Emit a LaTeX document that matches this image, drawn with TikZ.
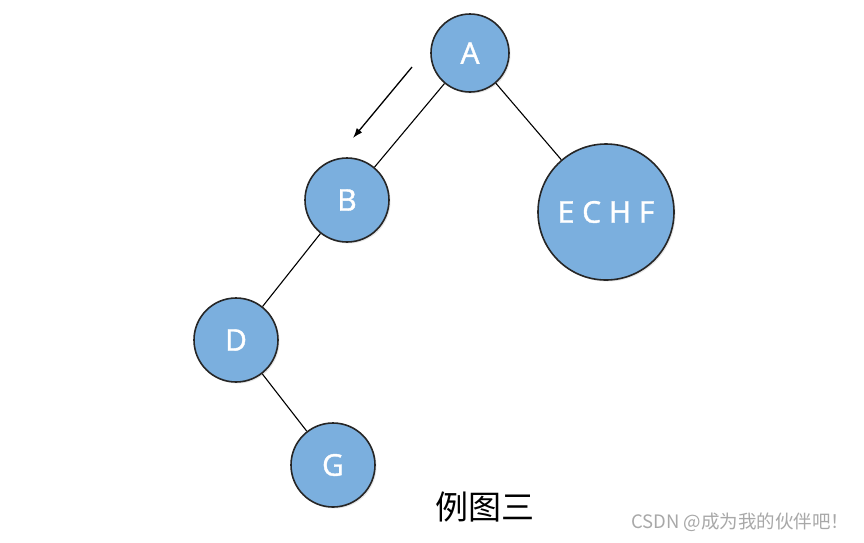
\documentclass[tikz,border=0pt]{standalone}
\usepackage{fontspec}
\newfontfamily\treefont{Open Sans}[FakeBold=1.3]
\newfontfamily\cjk{Noto Sans CJK SC}
\usetikzlibrary{shadows,arrows.meta}

\definecolor{nodeblue}{HTML}{7BAFDE}
\definecolor{markgray}{HTML}{A8A8A8}

\begin{document}
\begin{tikzpicture}[x=1pt, y=-1pt, auto,
    tree/.style={circle, draw=black!85, line width=1.6pt, fill=nodeblue, text=white,
        font=\treefont\fontsize{30}{34}\selectfont, drop shadow={opacity=0.2, shadow xshift=1.5pt, shadow yshift=-1.5pt}}]
    \useasboundingbox (0,0) rectangle (864,542);
    % Place nodes
    \node [tree, minimum size=78pt] (A) at (470,53) {A};
    \node [tree, minimum size=84pt] (B) at (347,200) {B};
    \node [tree, minimum size=84pt] (D) at (236,340) {D};
    \node [tree, minimum size=84pt] (G) at (333,465) {G};
    \node [tree, minimum size=136pt] (R) at (606,212) {E C H F};
    \coordinate (S) at (412,67);
    \coordinate (T) at (353,138);
    % Edges
    \path [draw, line width=1.1pt] (A) -- (B);
    \path [draw, line width=1.1pt] (A) -- (R);
    \path [draw, line width=1.1pt] (B) -- (D);
    \path [draw, line width=1.1pt] (D) -- (G);
    \path [draw, -{Latex[length=10pt,width=7pt]}, line width=1.3pt] (S) -- (T);
    % Texts
    \node (title) at (485,507) {\cjk\fontsize{33}{38}\selectfont 例图三};
    \node [anchor=east, text=markgray] (mark) at (853,522) {\cjk\fontsize{18.5}{21}\selectfont CSDN @成为我的伙伴吧！};
\end{tikzpicture}
\end{document}
